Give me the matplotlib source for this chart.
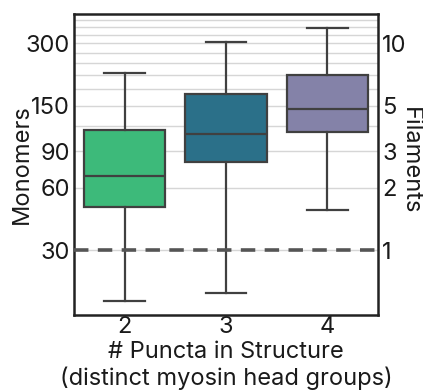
import matplotlib
matplotlib.use("Agg")
import matplotlib.pyplot as plt
import numpy as np

categories = ["2", "3", "4"]
whislo = [17.1, 18.6, 46.8]
q1 = [48.3, 79.7, 112.0]
med = [68.4, 109.6, 144.8]
q3 = [114.6, 171.0, 210.0]
whishi = [214.8, 305.0, 356.0]
colors = ["#3dba7a", "#2b7089", "#8482a8"]
left_ticks = [30, 60, 90, 150, 300]
right_ticks = [1, 2, 3, 5, 10]
monomers_per_filament = 30

plt.rcParams['font.family'] = ['Inter', 'DejaVu Sans']
FS = 17
tc = "#1a1a1a"

fig = plt.figure(figsize=(4.23, 3.91), dpi=100)
ax = fig.add_axes([74/423, 1-315/391, (378-74)/423, (315-14)/391])

ylim = (14.55, 416)
ax.set_yscale('log')
ax.set_ylim(*ylim)
ax.set_xlim(-0.5, 2.5)

# grid lines at integer filament counts
for k in range(1, 14):
    ax.axhline(k * monomers_per_filament, color="#d6d6d6", lw=1.0, zorder=0)

stats = []
for i in range(len(categories)):
    stats.append(dict(med=med[i], q1=q1[i], q3=q3[i], whislo=whislo[i], whishi=whishi[i], fliers=[]))

ec = "#404040"
bp = ax.bxp(stats, positions=range(len(categories)), widths=0.8, patch_artist=True,
            showfliers=False,
            boxprops=dict(edgecolor=ec, linewidth=1.6),
            medianprops=dict(color=ec, linewidth=1.6),
            whiskerprops=dict(color=ec, linewidth=1.6),
            capprops=dict(color=ec, linewidth=1.6),
            capwidths=0.4)
for patch, c in zip(bp['boxes'], colors):
    patch.set_facecolor(c)
for artists in bp.values():
    for a in artists:
        a.set_zorder(2)

ax.axhline(monomers_per_filament, color="#555555", lw=2.6, dashes=(4, 2.6), zorder=3)

ax.set_xticks(range(len(categories)))
ax.set_xticklabels(categories)
ax.set_yticks(left_ticks)
ax.set_yticklabels([str(t) for t in left_ticks])
ax.yaxis.set_minor_locator(matplotlib.ticker.NullLocator())
ax.tick_params(axis='both', length=0, labelsize=FS, pad=3, colors=tc)
ax.tick_params(axis='x', pad=1)
ax.set_ylabel("Monomers", fontsize=FS, color=tc)
ax.yaxis.set_label_coords(-(74-33)/304, 0.5)
ax.set_xlabel("# Puncta in Structure\n(distinct myosin head groups)", fontsize=FS,
              labelpad=2, color=tc, linespacing=1.2)
for s in ax.spines.values():
    s.set_linewidth(1.8)
    s.set_color("#222222")

ax2 = ax.twinx()
ax2.set_yscale('log')
ax2.set_ylim(ylim[0] / monomers_per_filament, ylim[1] / monomers_per_filament)
ax2.set_yticks(right_ticks)
ax2.set_yticklabels([str(t) for t in right_ticks])
ax2.yaxis.set_minor_locator(matplotlib.ticker.NullLocator())
ax2.tick_params(axis='y', length=0, labelsize=FS, pad=3, colors=tc)
ax2.set_ylabel("Filaments", fontsize=FS, rotation=270, color=tc, va='center')
ax2.yaxis.set_label_coords(1 + (410-378)/304, 0.5 + (165.5-162)/301)
for s in ax2.spines.values():
    s.set_visible(False)

fig.savefig("out.png", dpi=100)
